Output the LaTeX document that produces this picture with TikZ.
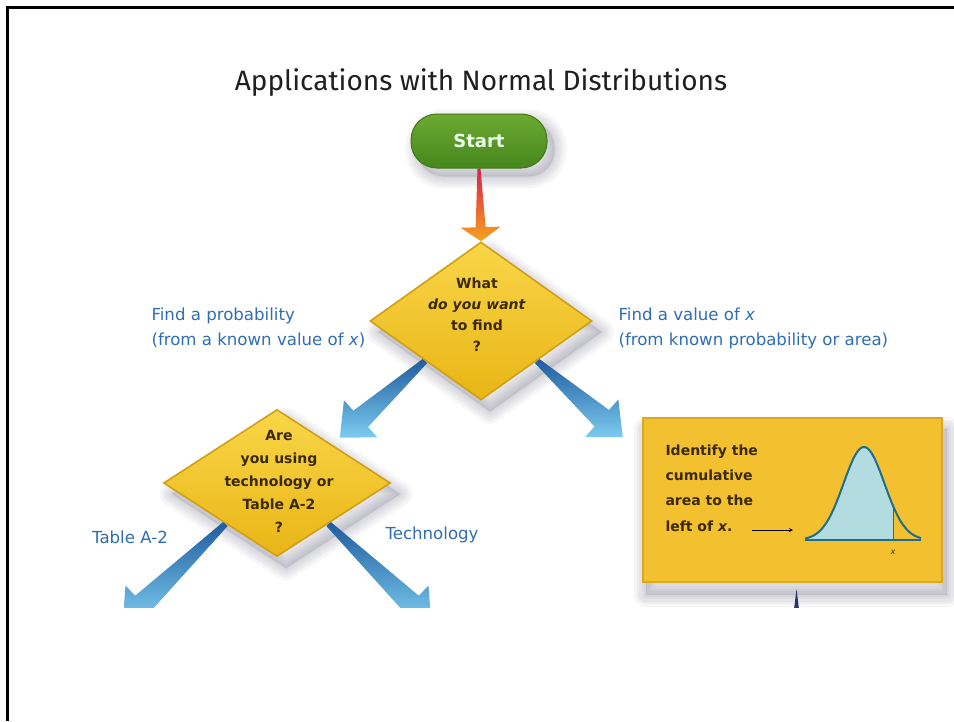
\documentclass[tikz,border=0pt]{standalone}
\usepackage{fontspec}
\setmainfont{DejaVu Sans}
\newfontfamily\titlefont{Fira Sans}
\usetikzlibrary{shapes.geometric,calc}

\definecolor{branchblue}{HTML}{2F6DB5}
\definecolor{diamondtop}{HTML}{F9D648}
\definecolor{diamondbot}{HTML}{E9B516}
\definecolor{diamondedge}{HTML}{D39F12}
\definecolor{qtextcol}{HTML}{3A2A08}
\definecolor{boxfill}{HTML}{F3C12F}
\definecolor{boxedge}{HTML}{DDA821}
\definecolor{greentop}{HTML}{6DAA33}
\definecolor{greenbot}{HTML}{46861C}
\definecolor{greenedge}{HTML}{3F7A18}
\definecolor{arrowdark}{HTML}{1F5C9E}
\definecolor{arrowlight}{HTML}{7CCBF0}
\definecolor{arrowred}{HTML}{D6204A}
\definecolor{arroworange}{HTML}{F7A21C}
\definecolor{curvefill}{HTML}{B3DCE0}
\definecolor{curveline}{HTML}{1F6E8C}
\definecolor{navy}{HTML}{1A2A6A}
\definecolor{shadowtint}{HTML}{3A3A55}

\pgfdeclarelayer{background}
\pgfsetlayers{background,main}

% tapered arrow: #1 tail, #2 tip, #3 half width at tail, #4 half width at head base,
% #5 half width of head, #6 head length, #7 fill options
\newcommand\flowarrow[7]{%
  \coordinate (hb) at ($(#2)!#6!(#1)$);
  \shade[#7] ($(#1)!#3!90:(#2)$) -- ($(hb)!#4!90:(#2)$) -- ($(hb)!#5!90:(#2)$)
    -- (#2) -- ($(hb)!#5!-90:(#2)$) -- ($(hb)!#4!-90:(#2)$) -- ($(#1)!#3!-90:(#2)$) -- cycle;}

% soft drop shadow built from stacked translucent strokes: #1 offset, #2 outline path
\newcommand\softshadow[2]{%
  \begin{scope}[transform canvas={shift={#1}}]
    \fill[shadowtint, opacity=0.13] #2;
    \foreach \w in {24,18,13,8,3}{\draw[shadowtint, opacity=0.045, line width=\w pt, line join=round] #2;}
  \end{scope}}

\begin{document}
\begin{tikzpicture}[x=1pt,y=-1pt,
  decision/.style={diamond, inner sep=0pt, draw=diamondedge, line width=1.6pt,
    top color=diamondtop, bottom color=diamondbot},
  qtext/.style={font=\fontsize{14}{21}\selectfont\bfseries, text=qtextcol, align=center},
  branch/.style={font=\fontsize{16.6}{25}\selectfont, text=branchblue, align=left},
  bluearrow/.style={top color=arrowdark, bottom color=arrowlight},
]
\useasboundingbox (0,0) rectangle (954,721);

\begin{scope}
\clip (0,0) rectangle (954,607);

% heading and start terminal
\node[font=\titlefont\fontsize{28}{32}\selectfont, text=black!88] (title) at (481,83) {Applications with Normal Distributions};
\node[rectangle, rounded corners=26pt, minimum width=136pt, minimum height=54pt,
  top color=greentop, bottom color=greenbot, draw=greenedge, line width=1pt,
  font=\fontsize{18}{20}\selectfont\bfseries, text=green!8] (start) at (479,141) {Start};

% decision and result shapes
\node[decision, minimum width=222pt, minimum height=158pt] (q1) at (481,321) {};
\node[decision, minimum width=227pt, minimum height=147pt] (q2) at (277,483) {};
\node[rectangle, minimum width=299pt, minimum height=164pt, fill=boxfill, draw=boxedge,
  line width=2.5pt] (box1) at (792.5,500) {};

% connector end points
\coordinate (a1tail) at ($(q1.west)!0.5!(q1.south)$);
\coordinate (a1tip) at ($(q2.north)!0.55!(q2.east)+(0,-12)$);
\coordinate (a2tail) at ($(q1.south)!0.5!(q1.east)$);
\coordinate (a2tip) at ($(box1.north west)+(-19,20)$);
\coordinate (a3tail) at ($(q2.west)!0.55!(q2.south)$);
\coordinate (a3tip) at ($(q2.west)+(-40,140)$);
\coordinate (a4tail) at ($(q2.south)!0.45!(q2.east)$);
\coordinate (a4tip) at ($(q2.east)+(40,140)$);
\coordinate (a5tail) at ($(box1.south)+(4,6)$);
\coordinate (a5tip) at ($(box1.south)+(4,60)$);

% texts in the shapes
\node[qtext] (q1txt) at (477,315) {What\\\textit{do you want}\\to find\\?};
\node[qtext, font=\fontsize{14}{23}\selectfont\bfseries] (q2txt) at (279,481) {Are\\you using\\technology or\\Table A-2\\?};
\node[qtext, align=left, anchor=west, font=\fontsize{14}{25.3}\selectfont\bfseries] (boxtxt) at (662,488)
  {Identify the\\cumulative\\area to the\\left of \textit{x}.};

% branch labels
\node[branch, anchor=west] (lprob) at (148,328) {Find a probability\\(from a known value of \textit{x})};
\node[branch, anchor=west] (lval) at (615,328) {Find a value of \textit{x}\\(from known probability or area)};
\node[branch] (ltab) at (130,537) {Table A-2};
\node[branch] (ltech) at (432,535) {Technology};

% normal curve sketch inside the box
\coordinate (ptr) at (752,530);
\coordinate (ptrend) at (793,530);
\draw[line width=0.8pt, -stealth] (ptr) -- (ptrend);
\fill[curvefill] (805,540) -- plot[domain=805:893, samples=60] (\x, {540-93*exp(-((\x-864)/20.5)^2/2)}) -- (893,540) -- cycle;
\draw[curveline, line width=0.8pt] (893,540) -- (893,{540-93*exp(-((893-864)/20.5)^2/2)});
\draw[curveline, line width=1.4pt] (805,540) -- (921,540);
\draw[curveline, line width=2pt, line join=round] plot[domain=805:921, samples=90] (\x, {540-93*exp(-((\x-864)/20.5)^2/2)});
\node[font=\fontsize{8}{8}\selectfont\itshape, text=qtextcol] (xmark) at (893,552) {x};
\end{scope}

% shadows and connectors lie behind the shapes
\begin{pgfonlayer}{background}
\fill[white] (0,0) rectangle (954,721);
\begin{scope}
\clip (0,0) rectangle (954,607);
\softshadow{(7pt,-8pt)}{[rounded corners=26pt] (start.north west) rectangle (start.south east)}
\softshadow{(9pt,-11pt)}{(q1.north) -- (q1.east) -- (q1.south) -- (q1.west) -- cycle}
\softshadow{(9pt,-11pt)}{(q2.north) -- (q2.east) -- (q2.south) -- (q2.west) -- cycle}
\softshadow{(4pt,-12pt)}{(box1.north west) rectangle (box1.south east)}
\flowarrow{start.south}{q1.north}{1.5pt}{5pt}{20pt}{14pt}{top color=arrowred, bottom color=arroworange}
\flowarrow{a1tail}{a1tip}{3pt}{11pt}{25pt}{28pt}{bluearrow}
\flowarrow{a2tail}{a2tip}{3pt}{11pt}{25pt}{28pt}{bluearrow}
\flowarrow{a3tail}{a3tip}{3pt}{11pt}{25pt}{28pt}{bluearrow}
\flowarrow{a4tail}{a4tip}{3pt}{11pt}{25pt}{28pt}{bluearrow}
\flowarrow{a5tail}{a5tip}{0pt}{5pt}{12pt}{14pt}{top color=navy, bottom color=navy!80}
\end{scope}
\end{pgfonlayer}

% page frame
\draw[line width=3pt] (7.5,721) -- (7.5,7.5) -- (954,7.5);
\end{tikzpicture}
\end{document}
